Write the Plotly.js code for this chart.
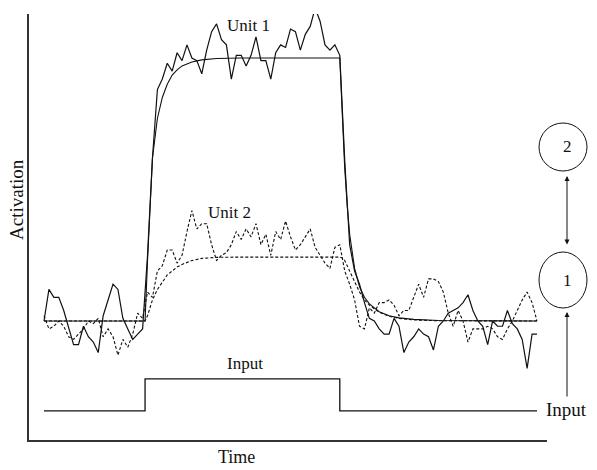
<!DOCTYPE html>
<html>
<head>
<meta charset="utf-8">
<script src="https://cdn.plot.ly/plotly-3.0.1.min.js"></script>
<style>html,body{margin:0;padding:0;background:#fff;}#chart{width:597px;height:470px;}</style>
</head>
<body>
<div id="chart"></div>
<script>
// ---- data (time steps, activation levels) ----
var timeNoisy = [];
for (var i = 0; i <= 100; i++) timeNoisy.push(i);

var unit1Noisy = [
  0.00, 0.12, 0.09, 0.09, 0.04, -0.03, -0.09, -0.09, -0.02, -0.06,
  -0.08, -0.12, 0.02, 0.08, 0.14, 0.12, 0.01, -0.03, -0.07, -0.05,
  -0.03, 0.25, 0.62, 0.88, 0.92, 0.98, 0.95, 1.02, 0.99, 1.05,
  1.00, 0.99, 0.94, 1.03, 1.10, 1.13, 1.07, 1.05, 0.92, 1.01,
  1.01, 0.97, 1.01, 1.08, 0.99, 0.99, 0.92, 1.02, 1.05, 1.04,
  1.11, 1.10, 1.03, 1.09, 1.12, 1.19, 1.14, 1.05, 1.03, 1.05,
  1.01, 0.61, 0.29, 0.19, 0.14, 0.07, 0.01, 0.00, -0.03, -0.05,
  -0.05, 0.01, -0.02, -0.12, -0.08, -0.06, -0.03, -0.05, -0.06, -0.11,
  -0.02, 0.00, 0.03, 0.04, 0.05, 0.07, 0.10, 0.04, 0.00, -0.02,
  -0.09, 0.00, -0.02, -0.02, 0.04, -0.01, -0.03, -0.07, -0.18, -0.05,
  -0.05
];

var unit2Noisy = [
  0.02, -0.03, -0.02, 0.00, -0.02, -0.06, -0.07, -0.05, -0.03, 0.00,
  -0.01, 0.01, -0.06, -0.03, -0.06, -0.13, -0.07, -0.10, -0.05, 0.03,
  0.01, 0.11, 0.09, 0.19, 0.21, 0.27, 0.27, 0.22, 0.25, 0.34,
  0.42, 0.35, 0.37, 0.37, 0.29, 0.23, 0.25, 0.26, 0.29, 0.34,
  0.31, 0.35, 0.32, 0.37, 0.29, 0.33, 0.25, 0.34, 0.31, 0.38,
  0.32, 0.27, 0.29, 0.32, 0.35, 0.28, 0.25, 0.22, 0.20, 0.28,
  0.29, 0.19, 0.14, 0.08, -0.02, -0.03, 0.05, 0.03, 0.07, 0.07,
  0.08, 0.06, 0.02, 0.04, 0.04, 0.09, 0.14, 0.09, 0.16, 0.16,
  0.15, 0.11, 0.03, -0.02, 0.04, 0.00, -0.08, -0.03, -0.03, -0.03,
  -0.02, -0.03, -0.06, -0.07, -0.03, 0.00, 0.04, 0.08, 0.11, 0.07,
  0.00
];

var timeSmooth = [0, 20.5, 21, 21.5, 22, 23, 24, 25, 26, 27, 28, 30, 32, 35, 40,
                  60, 60.5, 61, 61.5, 62, 63, 64, 65, 66, 68, 70, 72, 75, 80, 100];
var unit1Smooth = [0, 0, 0.23, 0.45, 0.62, 0.77, 0.85, 0.90, 0.935, 0.955, 0.97, 0.985, 0.993, 0.998, 1,
                   1, 0.78, 0.58, 0.44, 0.33, 0.20, 0.13, 0.09, 0.065, 0.035, 0.02, 0.012, 0.006, 0.002, 0];
var unit2Smooth = [0, 0, 0.02, 0.05, 0.08, 0.12, 0.15, 0.175, 0.19, 0.205, 0.215, 0.23, 0.238, 0.242, 0.243,
                   0.243, 0.24, 0.23, 0.21, 0.19, 0.15, 0.11, 0.08, 0.06, 0.033, 0.018, 0.01, 0.004, 0.001, 0];

var timeInput = [0, 20.5, 20.5, 60, 60, 100];
var inputLevel = [-0.342, -0.342, -0.22, -0.22, -0.342, -0.342];

var labels = {unit1: 'Unit 1', unit2: 'Unit 2', input: 'Input', xTitle: 'Time', yTitle: 'Activation'};

// ---- traces ----
var ink = '#111';
var traces = [
  {x: timeNoisy, y: unit1Noisy, mode: 'lines', line: {color: ink, width: 1.2}, name: 'Unit 1 (noisy)'},
  {x: timeSmooth, y: unit1Smooth, mode: 'lines', line: {color: ink, width: 1.1}, name: 'Unit 1'},
  {x: timeNoisy, y: unit2Noisy, mode: 'lines', line: {color: ink, width: 1.1, dash: '3px,2px'}, name: 'Unit 2 (noisy)'},
  {x: timeSmooth, y: unit2Smooth, mode: 'lines', line: {color: ink, width: 1.1, dash: '3px,2px'}, name: 'Unit 2'},
  {x: timeInput, y: inputLevel, mode: 'lines', line: {color: ink, width: 1.3}, name: 'Input'}
];

var serif = 'Liberation Serif, Times New Roman, serif';

// pixel -> paper helpers for the side diagram (plot area: x 29..547, y 14..440)
function px(x) { return (x - 29) / 518; }
function py(y) { return (440 - y) / 426; }

function label(x, y, text, size, extra) {
  var a = {x: x, y: y, xref: 'paper', yref: 'paper', text: text, showarrow: false,
           xanchor: 'center', yanchor: 'middle', font: {size: size}};
  for (var k in (extra || {})) a[k] = extra[k];
  return a;
}

var layout = {
  width: 597, height: 470,
  margin: {l: 29, r: 50, t: 14, b: 30},
  paper_bgcolor: '#fff', plot_bgcolor: '#fff',
  showlegend: false,
  font: {family: serif, color: ink},
  xaxis: {range: [-3.043, 102.03], showline: true, linecolor: '#333', linewidth: 1.5,
          showgrid: false, zeroline: false, showticklabels: false, ticks: ''},
  yaxis: {range: [-0.4525, 1.1673], showline: true, linecolor: '#333', linewidth: 2,
          showgrid: false, zeroline: false, showticklabels: false, ticks: ''},
  shapes: [
    {type: 'circle', xref: 'paper', yref: 'paper', x0: px(539), x1: px(587), y0: py(171), y1: py(123),
     line: {color: ink, width: 1}},
    {type: 'circle', xref: 'paper', yref: 'paper', x0: px(539), x1: px(587), y0: py(308), y1: py(252),
     line: {color: ink, width: 1}}
  ],
  annotations: [
    {x: 41.4, y: 1.125, xref: 'x', yref: 'y', text: labels.unit1, showarrow: false,
     xanchor: 'center', yanchor: 'middle', font: {size: 17}},
    {x: 37.7, y: 0.414, xref: 'x', yref: 'y', text: labels.unit2, showarrow: false,
     xanchor: 'center', yanchor: 'middle', font: {size: 17}},
    {x: 40.8, y: -0.163, xref: 'x', yref: 'y', text: labels.input, showarrow: false,
     xanchor: 'center', yanchor: 'middle', font: {size: 17}},
    label(px(566), py(409), labels.input, 19),
    label(px(236), py(457), labels.xTitle, 18),
    label(px(16), py(200), labels.yTitle, 19, {textangle: -90}),
    label(px(567), py(147), '2', 17),
    label(px(567), py(280), '1', 17),
    // double arrow between units
    {x: px(567), y: py(176), xref: 'paper', yref: 'paper', text: '', showarrow: true,
     ax: 0, ay: 70, arrowside: 'end+start', arrowhead: 2, arrowsize: 1, arrowwidth: 1, arrowcolor: ink},
    // input arrow into unit 1
    {x: px(567), y: py(312), xref: 'paper', yref: 'paper', text: '', showarrow: true,
     ax: 0, ay: 86, arrowhead: 2, arrowsize: 1, arrowwidth: 1, arrowcolor: ink}
  ]
};

Plotly.newPlot('chart', traces, layout, {displayModeBar: false, staticPlot: true});
</script>
</body>
</html>
